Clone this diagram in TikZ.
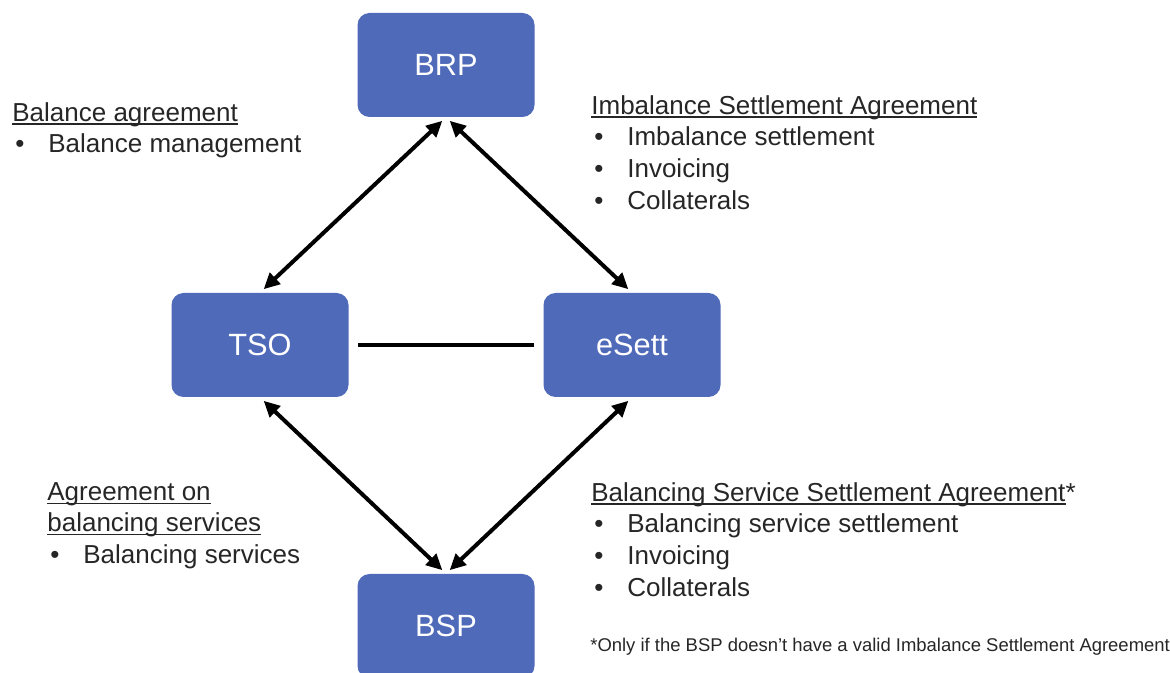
\documentclass[tikz,border=0pt]{standalone}
\usepackage{fontspec}
\setmainfont{Liberation Sans}
\usetikzlibrary{arrows.meta}

\definecolor{boxblue}{RGB}{79,106,185}
\definecolor{ink}{RGB}{38,38,38}

\newsavebox{\headbox}
\newcommand{\uhead}[1]{\sbox{\headbox}{#1}\rlap{\rule[-0.07cm]{\wd\headbox}{0.7pt}}\usebox{\headbox}}
\newcommand{\itm}[1]{\hspace{0.06cm}\makebox[0.66cm][l]{\textbullet}#1}

\tikzset{
  party/.style={fill=boxblue, rounded corners=0.24cm, minimum width=3.54cm,
    minimum height=2.08cm, text=white, font=\fontsize{17.5}{21}\selectfont},
  link/.style={line width=0.08cm,
    {Triangle[length=0.32cm,width=0.3cm]}-{Triangle[length=0.32cm,width=0.3cm]},
    shorten <=0.1cm, shorten >=0.1cm},
  note/.style={anchor=north west, inner sep=0pt, align=left, text=ink,
    font=\fontsize{14.8}{18}\selectfont},
}

\begin{document}
\begin{tikzpicture}
\useasboundingbox (0,0) rectangle (23.4,-13.46);

\node[party] (brp) at (8.92,-1.30) {BRP};
\node[party] (tso) at (5.20,-6.90) {TSO};
\node[party] (esett) at (12.64,-6.90) {eSett};
\node[party] (bsp) at (8.92,-12.52) {BSP};

\draw[link] (brp.south) -- (tso.north);
\draw[link] (brp.south) -- (esett.north);
\draw[link] (tso.south) -- (bsp.north);
\draw[link] (esett.south) -- (bsp.north);
\draw[line width=0.09cm, shorten <=0.18cm, shorten >=0.18cm] (tso) -- (esett);

\node[note] (balance) at (0.24,-2.04)
  {\uhead{Balance agreement}\\ \itm{Balance management}};
\node[note] (imbalance) at (11.82,-1.90)
  {\uhead{Imbalance Settlement Agreement}\\ \itm{Imbalance settlement}\\
   \itm{Invoicing}\\ \itm{Collaterals}};
\node[note] (services) at (0.94,-9.64)
  {\uhead{Agreement on}\\ \uhead{balancing services}\\ \itm{Balancing services}};
\node[note] (bsss) at (11.82,-9.64)
  {\uhead{Balancing Service Settlement Agreement}*\\ \itm{Balancing service settlement}\\
   \itm{Invoicing}\\ \itm{Collaterals}};
\node[anchor=base west, inner sep=0pt, text=ink, font=\fontsize{10.5}{12}\selectfont]
  (footnote) at (11.80,-13.02)
  {*Only if the BSP doesn't have a valid Imbalance Settlement Agreement};
\end{tikzpicture}
\end{document}
